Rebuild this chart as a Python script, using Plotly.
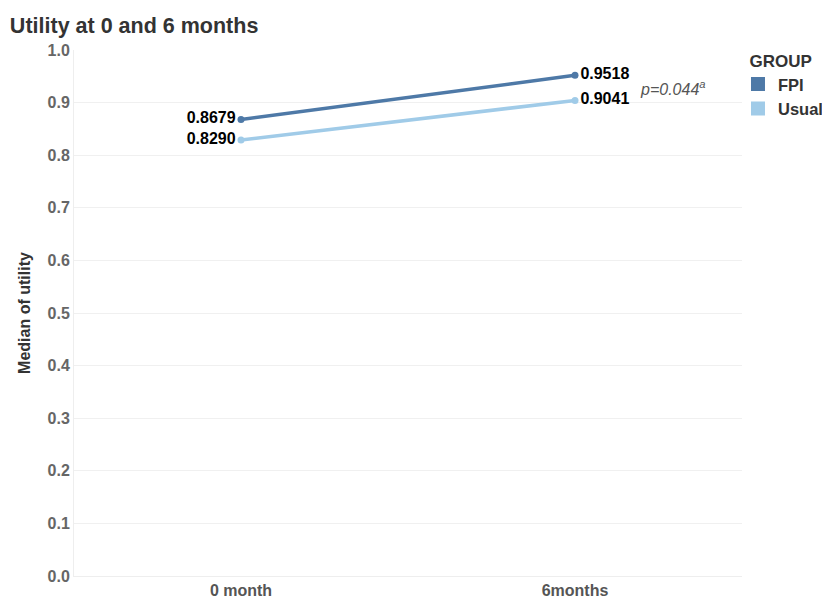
import plotly.graph_objects as go

categories = ["0 month", "6months"]
fpi = [0.8679, 0.9518]
usual = [0.8290, 0.9041]
groups = ["FPI", "Usual"]
colors = {"FPI": "#4e79a7", "Usual": "#a0cbe8"}
y_ticks = [0.0, 0.1, 0.2, 0.3, 0.4, 0.5, 0.6, 0.7, 0.8, 0.9, 1.0]

FONT = "Liberation Sans, Arial"

fig = go.Figure()
series = {"FPI": fpi, "Usual": usual}
for g in groups:
    vals = series[g]
    fig.add_trace(go.Scatter(
        x=categories, y=vals, mode="lines+markers+text",
        line=dict(color=colors[g], width=3.5),
        marker=dict(color=colors[g], size=7),
        text=[f"{v:.4f}" for v in vals],
        textposition=["middle left", "middle right"],
        textfont=dict(family=FONT, size=16, color="#000000"),
        texttemplate="<b>%{text}</b>",
        showlegend=False, cliponaxis=False,
    ))
    fig.add_trace(go.Scatter(
        x=[None], y=[None], mode="markers", name=f"<b>{g}</b>",
        marker=dict(symbol="square", size=14, color=colors[g]),
        showlegend=True,
    ))

fig.add_annotation(
    x=1, y=0.928, xref="x", yref="y", xshift=63, xanchor="left",
    text="<i>p=0.044<sup>a</sup></i>", showarrow=False,
    font=dict(family=FONT, size=16, color="#555555"),
)

fig.update_layout(
    width=822, height=598,
    margin=dict(l=74, r=80, t=50, b=22, autoexpand=False),
    paper_bgcolor="white", plot_bgcolor="white",
    font=dict(family=FONT, color="#555555"),
    title=dict(text="<b>Utility at 0 and 6 months</b>", x=0.012, xanchor="left",
               y=0.958, yanchor="middle",
               font=dict(size=21.5, color="#333333", family=FONT)),
    legend=dict(
        title=dict(text="&nbsp;&nbsp;<b>GROUP</b>", font=dict(size=17, color="#333333")),
        x=0.994, xanchor="left", y=1.01, yanchor="top",
        font=dict(size=16.5, color="#333333", family=FONT),
        itemwidth=30, tracegroupgap=0,
        bgcolor="rgba(0,0,0,0)",
    ),
    xaxis=dict(
        range=[-0.5, 1.5], showgrid=False,
        showline=True, linecolor="#eeeeee",
        tickfont=dict(size=16, color="#555555"),
        tickprefix="<b>", ticksuffix="</b>",
        ticks="", fixedrange=True,
    ),
    yaxis=dict(
        range=[0, 1.0], tickvals=y_ticks,
        ticktext=[f"<b>{v:.1f}</b>" for v in y_ticks],
        tickfont=dict(size=16, color="#666666"),
        showgrid=True, gridcolor="#f0f0f0", gridwidth=1,
        zeroline=False, showline=True, linecolor="#eeeeee",
        title=dict(text="<b>Median of utility</b>", font=dict(size=16, color="#333333"), standoff=12),
    ),
)

fig.write_html("out.html")
